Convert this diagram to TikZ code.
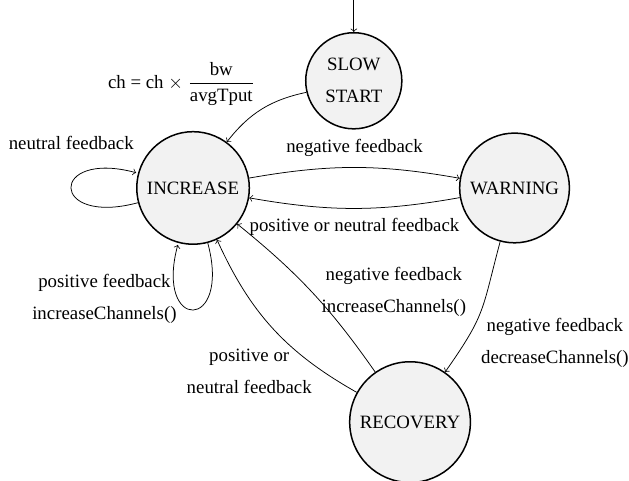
\documentclass[tikz,border=0pt]{standalone}
\usepackage{amsmath}
\usepackage{fontspec}
\setmainfont{Liberation Serif}
\usetikzlibrary{automata, positioning, arrows}

\begin{document}
\begin{tikzpicture}[->, on grid, every node/.style={align=center},
	every state/.style={draw, thick, circle, fill=gray!10, inner sep=4.5pt}]
	\useasboundingbox (-102.5pt,-155.6pt) rectangle (231.5pt,99.8pt);

	\node[state] (inc) at (0,0) {INCREASE};
	\node[state, above right = 2cm and 3cm of inc] (slow) {SLOW\\[5pt]START};
	\node[state, right = 6cm of inc] (warn) {WARNING};
	\node[state, below right = 4.37cm and 4.05cm of inc] (rec) {RECOVERY};
	\coordinate[above = 17.5pt of slow.north] (entry);

	\path (entry) edge[] (slow);
	\path (slow) edge[bend right=20] node[above left, yshift=-1.5pt] {ch = ch $\times$ $\dfrac{\text{bw}}{\text{avgTput}}$} (inc);
	\path (inc) edge[loop left] node[above=17pt] {neutral feedback} ();
	\path (inc) edge[loop below] node[pos=0.72, left=-3pt, yshift=-1pt] {positive feedback\\[5pt]increaseChannels()} ();
	\path (inc) edge[bend left=10] node[above=2pt] {negative feedback} (warn);
	\path (warn) edge[bend left=10] node[below=1.5pt] {positive or neutral feedback} (inc);
	\path (warn) edge[out=255, in=55, looseness=1.3] node[below right, xshift=-3.5pt, yshift=-0.5pt] {negative feedback\\[5pt]decreaseChannels()} (rec);
	\path (rec) edge[bend right=8] node[right=1.5pt] {negative feedback\\[5pt]increaseChannels()} (inc);
	\path (rec) edge[bend left=18] node[pos=0.2, left, yshift=-1.5pt] {positive or\\[5pt]neutral feedback} (inc);

\end{tikzpicture}
\end{document}
